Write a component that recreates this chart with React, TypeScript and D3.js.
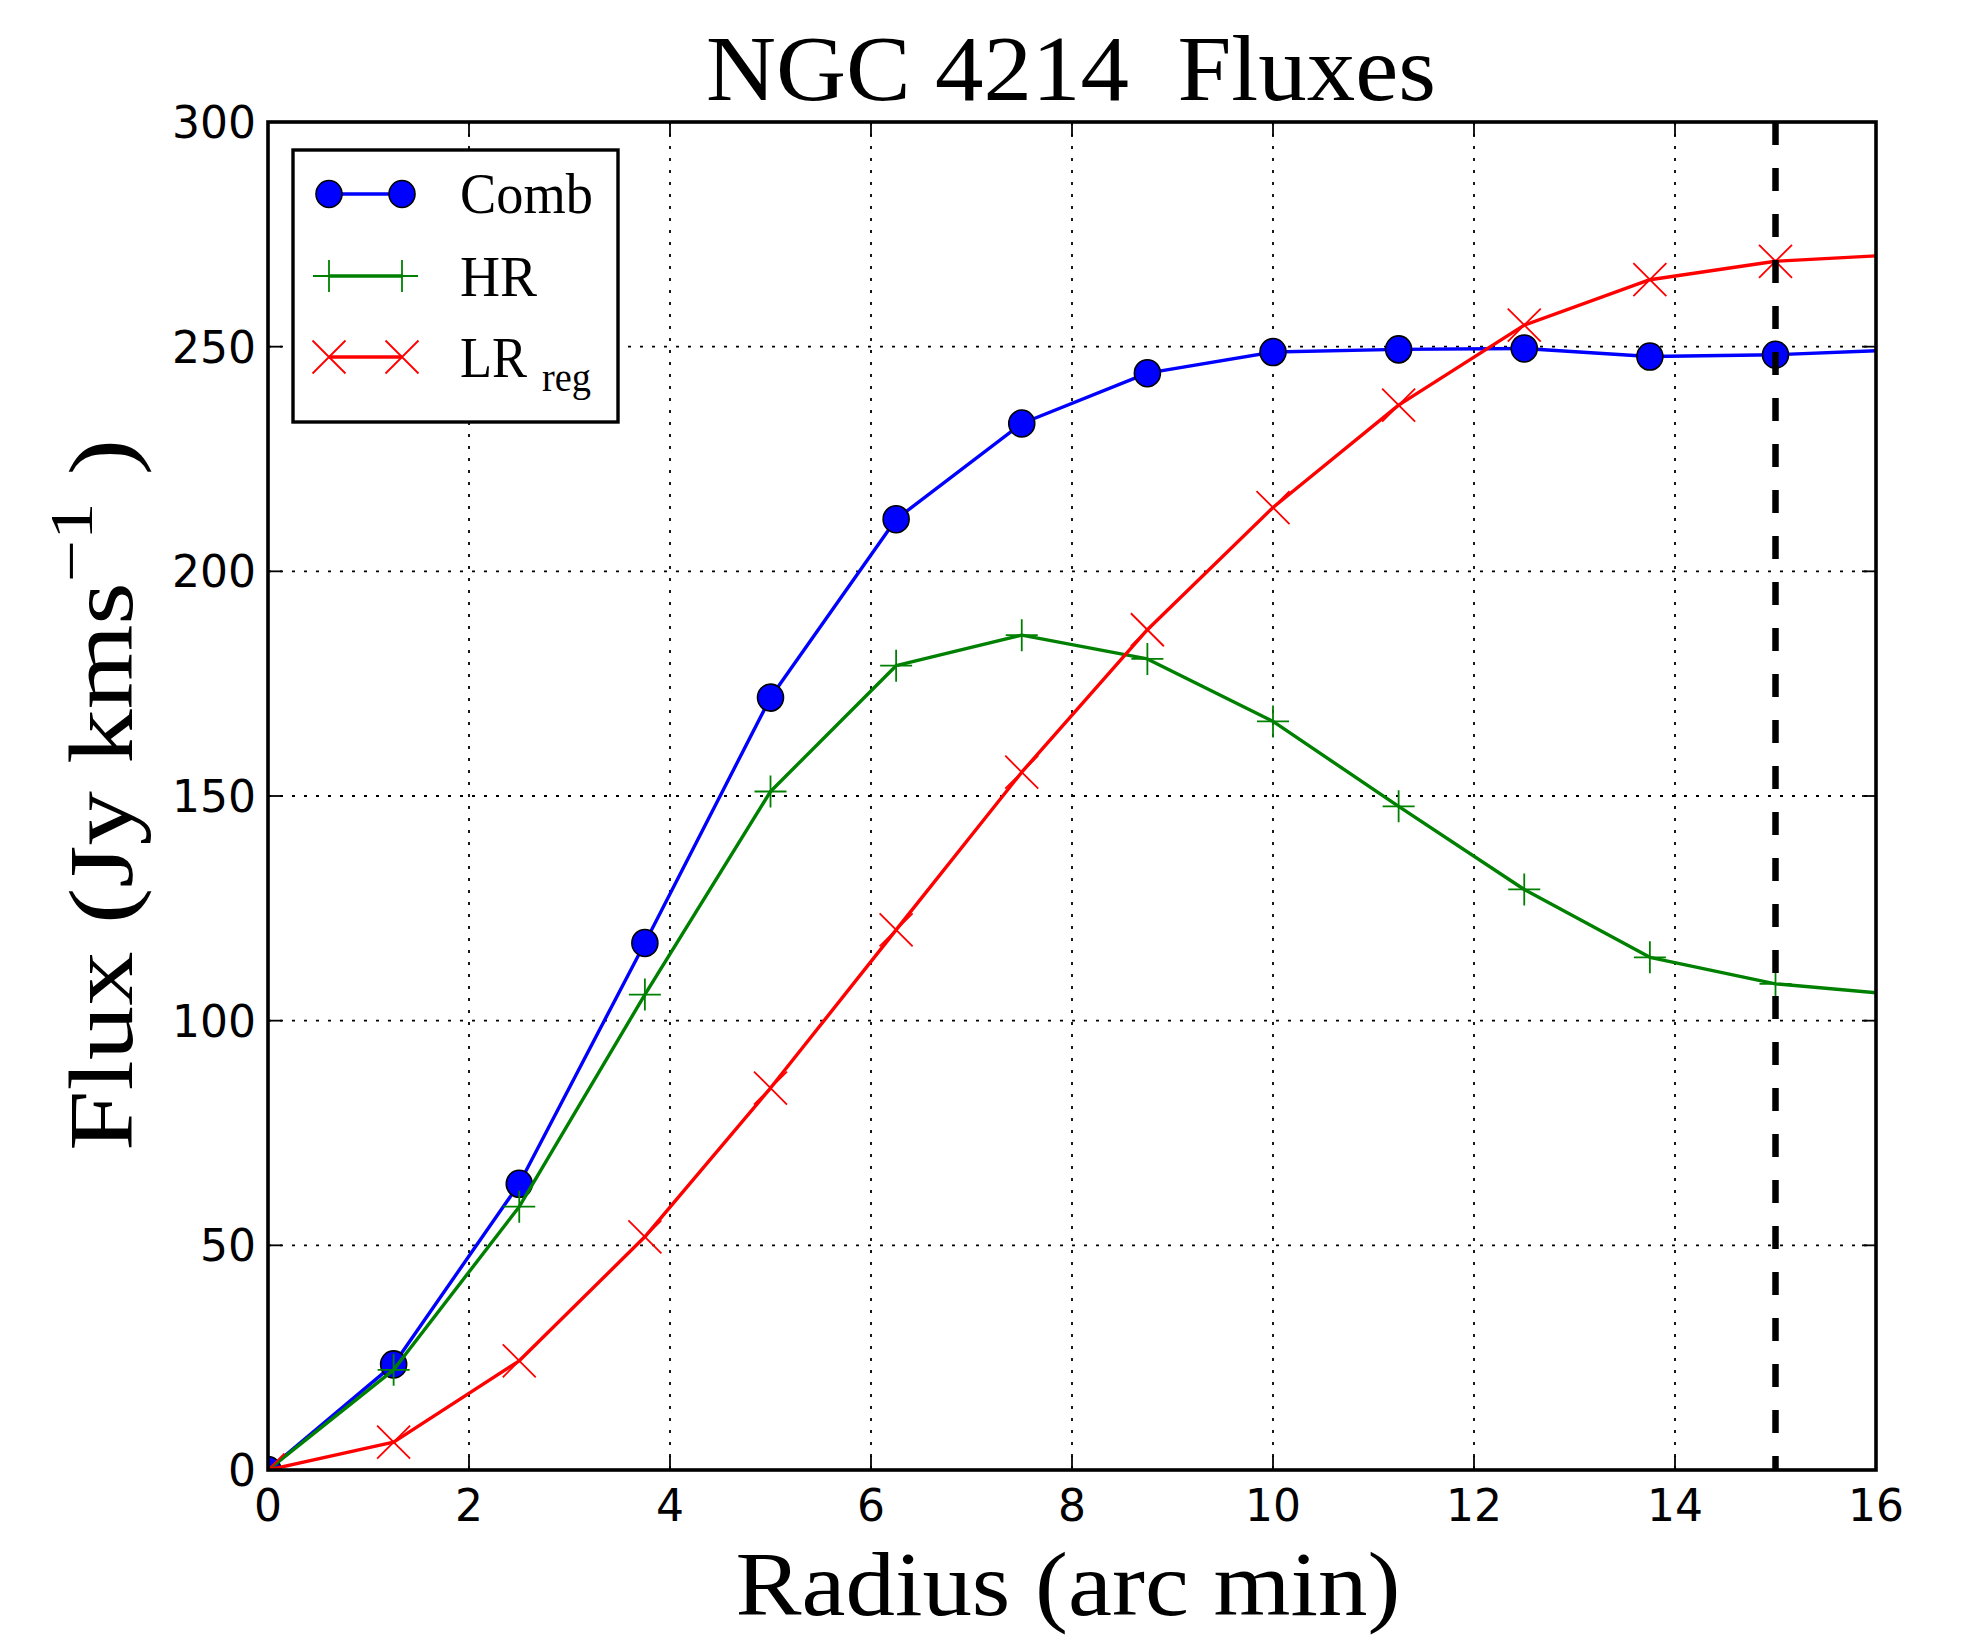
import React from "react";
import * as d3 from "d3";

const radius = [0, 1.25, 2.5, 3.75, 5, 6.25, 7.5, 8.75, 10, 11.25, 12.5, 13.75, 15, 16.25];
const comb = [0, 23.5, 63.7, 117.3, 171.9, 211.6, 232.9, 244.1, 248.8, 249.4, 249.6, 247.8, 248.2, 249.3];
const hr = [0, 22.3, 58.6, 105.8, 151.0, 179.0, 185.8, 180.5, 166.6, 147.7, 129.2, 114.1, 108.2, 105.7];
const lrReg = [0, 6.2, 24.3, 51.9, 85.0, 120.2, 155.3, 187.0, 214.2, 237.0, 254.8, 264.9, 269.0, 270.5];
const xTicks = [0, 2, 4, 6, 8, 10, 12, 14, 16];
const yTicks = [0, 50, 100, 150, 200, 250, 300];
const cutoffRadius = 15;

const W = 1966;
const H = 1635;
const L = 268, R = 1876, T = 122, B = 1470;

const serif = "'Liberation Serif', 'Times New Roman', serif";
const sans = "'DejaVu Sans', sans-serif";

export default function App() {
  const x = d3.scaleLinear().domain([0, 16]).range([L, R]);
  const y = d3.scaleLinear().domain([0, 300]).range([B, T]);
  const line = d3.line<number>().x((_, i) => x(radius[i])).y((v) => y(v));

  const plus = (cx: number, cy: number, s: number, key: any, color: string) => (
    <path key={key} d={`M${cx - s},${cy}H${cx + s}M${cx},${cy - s}V${cy + s}`} stroke={color} strokeWidth={1.8} fill="none" />
  );
  const cross = (cx: number, cy: number, s: number, key: any, color: string) => (
    <path key={key} d={`M${cx - s},${cy - s}L${cx + s},${cy + s}M${cx - s},${cy + s}L${cx + s},${cy - s}`} stroke={color} strokeWidth={1.8} fill="none" />
  );
  const dot = (cx: number, cy: number, key: any) => (
    <ellipse key={key} cx={cx} cy={cy} rx={13} ry={13.5} fill="#0000ff" stroke="#000" strokeWidth={1.6} />
  );

  return (
    <svg width={W} height={H} style={{ position: "absolute", left: 0, top: 0, background: "#fff" }}>
      <defs>
        <clipPath id="plotclip">
          <rect x={L} y={T} width={R - L} height={B - T} />
        </clipPath>
      </defs>
      <rect x={0} y={0} width={W} height={H} fill="#fff" />

      {/* grid */}
      <g stroke="#000" strokeWidth={1.8} strokeDasharray="3,9" fill="none">
        {xTicks.map((t) => (
          <line key={"gx" + t} x1={x(t)} x2={x(t)} y1={T} y2={B} />
        ))}
        {yTicks.map((t) => (
          <line key={"gy" + t} x1={L} x2={R} y1={y(t)} y2={y(t)} />
        ))}
      </g>

      {/* ticks inside */}
      <g stroke="#000" strokeWidth={1.8}>
        {xTicks.map((t) => (
          <g key={"tx" + t}>
            <line x1={x(t)} x2={x(t)} y1={B} y2={B - 14} />
            <line x1={x(t)} x2={x(t)} y1={T} y2={T + 14} />
          </g>
        ))}
        {yTicks.map((t) => (
          <g key={"ty" + t}>
            <line x1={L} x2={L + 14} y1={y(t)} y2={y(t)} />
            <line x1={R} x2={R - 14} y1={y(t)} y2={y(t)} />
          </g>
        ))}
      </g>

      <g clipPath="url(#plotclip)">
        <path d={line(comb) || ""} stroke="#0000ff" strokeWidth={3.4} fill="none" strokeLinejoin="round" />
        {comb.map((v, i) => dot(x(radius[i]), y(v), "c" + i))}
        <path d={line(hr) || ""} stroke="#008000" strokeWidth={3.4} fill="none" strokeLinejoin="round" />
        {hr.map((v, i) => plus(x(radius[i]), y(v), 16, "h" + i, "#008000"))}
        <path d={line(lrReg) || ""} stroke="#ff0000" strokeWidth={3.4} fill="none" strokeLinejoin="round" />
        {lrReg.map((v, i) => cross(x(radius[i]), y(v), 16.5, "l" + i, "#ff0000"))}
        <line x1={x(cutoffRadius)} x2={x(cutoffRadius)} y1={T} y2={B} stroke="#000" strokeWidth={6.5} strokeDasharray="23,23" />
      </g>

      {/* spines */}
      <rect x={L} y={T} width={R - L} height={B - T} fill="none" stroke="#000" strokeWidth={3.6} />

      {/* tick labels */}
      <g fontFamily={sans} fontSize={44} fill="#000">
        {xTicks.map((t) => (
          <text key={"lx" + t} x={x(t)} y={1521} textAnchor="middle">{t}</text>
        ))}
        {yTicks.map((t) => (
          <text key={"ly" + t} x={256} y={y(t) + 16} textAnchor="end">{t}</text>
        ))}
      </g>

      {/* legend */}
      <rect x={293} y={150} width={325} height={272} fill="#fff" stroke="#000" strokeWidth={3.4} />
      <line x1={329} x2={402} y1={194} y2={194} stroke="#0000ff" strokeWidth={3.4} />
      {dot(329, 194, "lg1")}
      {dot(402, 194, "lg2")}
      <line x1={329} x2={402} y1={276} y2={276} stroke="#008000" strokeWidth={3.4} />
      {plus(329, 276, 16, "lp1", "#008000")}
      {plus(402, 276, 16, "lp2", "#008000")}
      <line x1={329} x2={402} y1={357} y2={357} stroke="#ff0000" strokeWidth={3.4} />
      {cross(329, 357, 16.5, "lx1", "#ff0000")}
      {cross(402, 357, 16.5, "lx2", "#ff0000")}
      <g fontFamily={serif} fill="#000">
        <text x={460} y={213} fontSize={58} textLength={133} lengthAdjust="spacingAndGlyphs">Comb</text>
        <text x={460} y={296} fontSize={58} textLength={77} lengthAdjust="spacingAndGlyphs">HR</text>
        <text x={460} y={377} fontSize={58} textLength={67} lengthAdjust="spacingAndGlyphs">LR</text>
        <text x={542} y={391} fontSize={40} textLength={49} lengthAdjust="spacingAndGlyphs">reg</text>
      </g>

      {/* title and axis labels */}
      <text x={1071} y={100} fontFamily={serif} fontSize={94} textAnchor="middle" textLength={730} lengthAdjust="spacingAndGlyphs" xmlSpace="preserve" style={{ whiteSpace: "pre" }}>
        {"NGC 4214  Fluxes"}
      </text>
      <text x={1068} y={1615} fontFamily={serif} fontSize={92} textAnchor="middle" textLength={665} lengthAdjust="spacingAndGlyphs">
        Radius (arc min)
      </text>
      <text transform="translate(132,795) rotate(-90)" fontFamily={serif} fontSize={90} textAnchor="middle" textLength={712} lengthAdjust="spacingAndGlyphs" xmlSpace="preserve">
        Flux (Jy kms<tspan fontSize={62} dy={-40}>−1</tspan><tspan dy={40}> )</tspan>
      </text>
    </svg>
  );
}
